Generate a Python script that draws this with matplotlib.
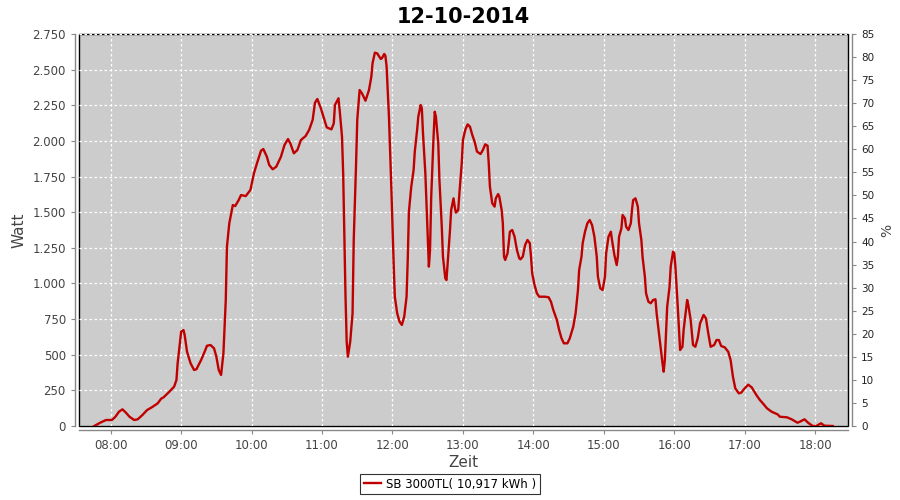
import matplotlib
matplotlib.use("Agg")
import matplotlib.pyplot as plt
from matplotlib.ticker import FuncFormatter, MultipleLocator

title = "12-10-2014"
series_name = "SB 3000TL( 10,917 kWh )"

times = [
    "07:46", "07:51", "07:56", "08:01", "08:04", "08:07", "08:10", "08:13", "08:16", "08:20",
    "08:23", "08:27", "08:31", "08:35", "08:40", "08:43", "08:45", "08:50", "08:54", "08:56",
    "08:57", "08:59", "09:00", "09:02", "09:03", "09:05", "09:08", "09:11", "09:13", "09:17",
    "09:20", "09:22", "09:25", "09:28", "09:30", "09:32", "09:34", "09:36", "09:38", "09:39",
    "09:41", "09:44", "09:46", "09:49", "09:51", "09:55", "09:59", "10:02", "10:05", "10:08",
    "10:10", "10:13", "10:15", "10:18", "10:21", "10:25", "10:28", "10:31", "10:33", "10:36",
    "10:39", "10:42", "10:46", "10:49", "10:52", "10:54", "10:56", "10:59", "11:02", "11:04",
    "11:08", "11:10", "11:11", "11:14", "11:15", "11:17", "11:18", "11:19", "11:20", "11:21",
    "11:22", "11:24", "11:26", "11:27", "11:29", "11:30", "11:32", "11:34", "11:37", "11:40",
    "11:42", "11:43", "11:45", "11:47", "11:50", "11:51", "11:53", "11:54", "11:55", "11:57",
    "11:59", "12:01", "12:02", "12:04", "12:06", "12:08", "12:10", "12:12", "12:13", "12:14",
    "12:16", "12:18", "12:19", "12:21", "12:22", "12:24", "12:25", "12:26", "12:28", "12:30",
    "12:31", "12:32", "12:33", "12:35", "12:36", "12:37", "12:39", "12:40", "12:42", "12:43",
    "12:45", "12:46", "12:47", "12:49", "12:50", "12:52", "12:53", "12:54", "12:56", "12:57",
    "12:59", "13:00", "13:02", "13:04", "13:06", "13:08", "13:10", "13:12", "13:15", "13:17",
    "13:19", "13:21", "13:22", "13:23", "13:25", "13:27", "13:28", "13:30", "13:31", "13:33",
    "13:34", "13:35", "13:36", "13:38", "13:39", "13:40", "13:42", "13:44", "13:46", "13:48",
    "13:49", "13:51", "13:53", "13:55", "13:57", "13:58", "13:59", "14:01", "14:03", "14:05",
    "14:10", "14:13", "14:15", "14:17", "14:20", "14:22", "14:24", "14:26", "14:29", "14:31",
    "14:34", "14:36", "14:38", "14:39", "14:41", "14:42", "14:44", "14:46", "14:48", "14:50",
    "14:52", "14:54", "14:55", "14:57", "14:59", "15:01", "15:02", "15:04", "15:06", "15:07",
    "15:09", "15:11", "15:12", "15:13", "15:15", "15:16", "15:18", "15:19", "15:21", "15:23",
    "15:24", "15:25", "15:27", "15:29", "15:30", "15:32", "15:33", "15:35", "15:36", "15:38",
    "15:40", "15:42", "15:44", "15:45", "15:47", "15:49", "15:50", "15:51", "15:52", "15:53",
    "15:54", "15:56", "15:57", "15:59", "16:00", "16:01", "16:03", "16:05", "16:07", "16:08",
    "16:10", "16:11", "16:12", "16:14", "16:16", "16:18", "16:20", "16:22", "16:25", "16:27",
    "16:29", "16:31", "16:34", "16:36", "16:38", "16:40", "16:43", "16:46", "16:48", "16:50",
    "16:52", "16:55", "16:57", "17:00", "17:03", "17:06", "17:10", "17:13", "17:16", "17:19",
    "17:23", "17:28", "17:30", "17:36", "17:40", "17:45", "17:47", "17:51", "17:54", "17:58",
    "18:01", "18:05", "18:08", "18:15",
]

watt = [
    0, 23, 42, 42, 65, 100, 117, 93, 65, 42,
    47, 77, 112, 131, 159, 192, 201, 241, 276, 323,
    440, 591, 662, 673, 638, 521, 440, 393, 398, 463,
    521, 563, 568, 545, 486, 393, 358, 510, 884, 1258,
    1422, 1550, 1543, 1585, 1620, 1613, 1656, 1773, 1854, 1931,
    1943, 1889, 1831, 1801, 1819, 1889, 1971, 2013, 1983, 1913,
    1936, 2006, 2034, 2077, 2147, 2268, 2294, 2229, 2147, 2095,
    2081, 2123, 2252, 2299, 2217, 2030, 1773, 1328, 907, 591,
    486, 591, 791, 1305, 1843, 2147, 2357, 2334, 2282, 2357,
    2451, 2544, 2619, 2614, 2575, 2580, 2610, 2596, 2521, 2170,
    1679, 1141, 907, 791, 732, 709, 767, 907, 1165, 1504,
    1679, 1796, 1925, 2077, 2170, 2252, 2229, 2053, 1773, 1328,
    1118, 1235, 1609, 2030, 2205, 2170, 1983, 1726, 1398, 1188,
    1036, 1024, 1141, 1375, 1515, 1597, 1539, 1497, 1515, 1632,
    1843, 2006, 2077, 2116, 2100, 2041, 1994, 1925, 1908, 1936,
    1976, 1966, 1843, 1679, 1562, 1539, 1597, 1627, 1609, 1515,
    1422, 1188, 1165, 1211, 1282, 1363, 1375, 1328, 1235, 1176,
    1169, 1188, 1270, 1305, 1282, 1188, 1071, 989, 931, 907,
    907, 903, 872, 814, 744, 673, 615, 580, 580, 615,
    697, 791, 954, 1094, 1188, 1282, 1363, 1422, 1445, 1410,
    1328, 1188, 1047, 966, 954, 1047, 1211, 1328, 1363, 1305,
    1200, 1129, 1188, 1328, 1387, 1480, 1457, 1398, 1375, 1422,
    1515, 1585, 1597, 1539, 1422, 1305, 1188, 1047, 931, 872,
    861, 884, 889, 791, 650, 510, 440, 381, 463, 650,
    837, 977, 1118, 1223, 1211, 1118, 837, 533, 556, 673,
    814, 884, 849, 744, 568, 556, 615, 720, 779, 755,
    650, 556, 568, 603, 603, 561, 552, 521, 463, 346,
    264, 229, 234, 264, 290, 271, 217, 182, 154, 124,
    100, 82, 65, 61, 47, 23, 30, 47, 23, 0,
    0, 19, 2, 0,
]

hour_ticks = ["08:00", "09:00", "10:00", "11:00", "12:00", "13:00",
              "14:00", "15:00", "16:00", "17:00", "18:00"]


def to_hours(s):
    h, m = s.split(":")
    return int(h) + int(m) / 60


x = [to_hours(t) for t in times]

fig = plt.figure(figsize=(9, 5), dpi=100)
fig.subplots_adjust(left=0.0878, right=0.9422, top=0.932, bottom=0.148)
ax = fig.add_subplot(111)
ax.set_facecolor("#cccccc")
ax.patch.set_edgecolor("black")
ax.patch.set_linewidth(1.0)

line, = ax.plot(x, watt, color="#c00000", lw=1.7, label=series_name)

ax.set_xlim(to_hours("07:33"), to_hours("18:28"))
ax.set_ylim(0, 2750)
ax.set_xticks([to_hours(t) for t in hour_ticks])
ax.set_xticklabels(hour_ticks)
ax.yaxis.set_major_locator(MultipleLocator(250))
ax.yaxis.set_major_formatter(FuncFormatter(lambda v, p: f"{int(v):,}".replace(",", ".")))
ax.grid(True, color="white", linestyle=(0, (2, 2)), linewidth=0.9)
ax.set_axisbelow(True)

# axis lines sit a few pixels outside the plot box, as in the original
ax.spines["top"].set_visible(False)
ax.spines["right"].set_visible(False)
for side in ("left", "bottom"):
    ax.spines[side].set_position(("outward", 3))
    ax.spines[side].set_color("#888888")
    ax.spines[side].set_linewidth(1.0)
ax.tick_params(labelsize=8.5, colors="#888888", labelcolor="#444444", length=3, width=0.8)

ax.set_ylabel("Watt", fontsize=11, color="#444444")
ax.set_xlabel("Zeit", fontsize=11, color="#444444", labelpad=2)
ax.set_title(title, fontsize=15, fontweight="bold", pad=8)

ax2 = ax.twinx()
ax2.set_ylim(0, 85)
ax2.yaxis.set_major_locator(MultipleLocator(5))
ax2.tick_params(labelsize=7.5, colors="#888888", labelcolor="#222222", length=3, width=0.8)
ax2.set_ylabel("%", fontsize=10, color="#444444")
for side in ("left", "top", "bottom"):
    ax2.spines[side].set_visible(False)
ax2.spines["right"].set_position(("outward", 3))
ax2.spines["right"].set_color("#888888")
ax2.spines["right"].set_linewidth(1.0)

leg = fig.legend(handles=[line], loc="lower center", bbox_to_anchor=(0.5, 0.0),
                 fontsize=8.5, frameon=True, fancybox=False, handlelength=1.5,
                 borderpad=0.3, handletextpad=0.4)
leg.get_frame().set_edgecolor("black")
leg.get_frame().set_linewidth(0.8)

fig.savefig("out.png", dpi=100, facecolor="white")
